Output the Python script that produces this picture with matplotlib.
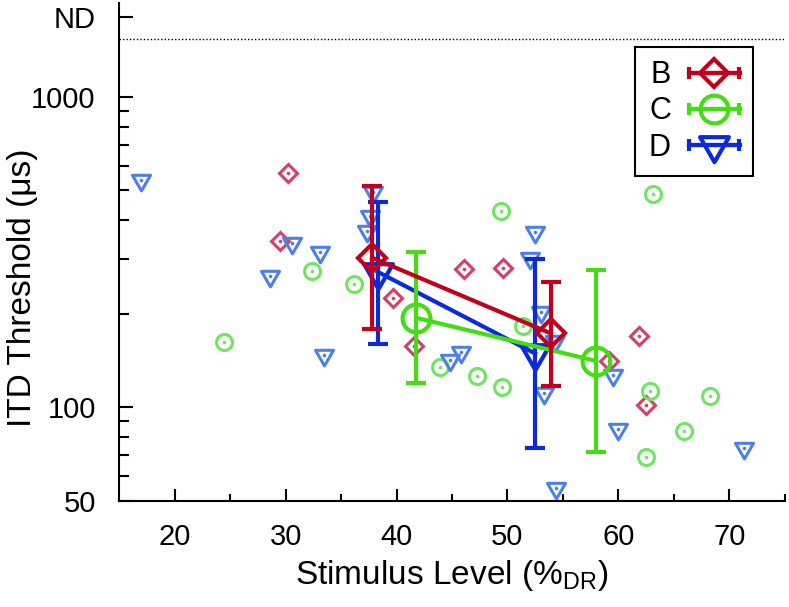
import numpy as np
import matplotlib
matplotlib.use("Agg")
import matplotlib.pyplot as plt
from matplotlib.path import Path
from matplotlib.lines import Line2D
from matplotlib.collections import LineCollection
from matplotlib.container import ErrorbarContainer
from matplotlib.legend_handler import HandlerErrorbar

plt.rcParams['font.family'] = ['Liberation Sans', 'DejaVu Sans']
plt.rcParams['mathtext.fontset'] = 'custom'
plt.rcParams['mathtext.rm'] = 'Liberation Sans'
plt.rcParams['mathtext.it'] = 'Liberation Sans:italic'
plt.rcParams['mathtext.bf'] = 'Liberation Sans:bold'

# ---------------- data ----------------
groups = ['B', 'C', 'D']

# group means with error bars
B_x = [37.8, 53.9]
B_y = [303, 173]
B_lo = [178, 117]
B_hi = [517, 254]

C_x = [41.8, 58.0]
C_y = [194, 141]
C_lo = [120, 71.5]
C_hi = [317, 277]

D_x = [38.3, 52.5]
D_y = [273, 149]
D_lo = [160, 73.7]
D_hi = [457, 300]

# individual subjects
B_ind_x = [30.2, 29.5, 39.7, 41.6, 46.1, 49.6, 61.9, 59.2, 62.5]
B_ind_y = [568, 344, 224, 157, 279, 281, 170, 141, 101.5]

C_ind_x = [32.4, 36.2, 24.4, 43.9, 49.4, 63.1, 51.4, 47.3, 49.5, 62.9, 68.3, 65.9, 62.5]
C_ind_y = [274, 250, 162, 135, 430, 486, 183, 126, 116, 113, 108.5, 84, 69.3]

D_ind_x = [17.0, 30.6, 33.1, 37.9, 37.6, 37.3, 28.6, 33.5, 44.8, 45.8, 52.5, 52.0,
           53.0, 54.3, 53.3, 59.5, 60.0, 71.3, 54.4]
D_ind_y = [540, 338, 317, 494, 413, 370, 265, 147, 142, 151, 368, 302,
           203, 163, 111, 127, 85, 74, 55]

nd_level = 1530
yticks = [50, 100, 1000, 1800]
yticklabels = ['50', '100', '1000', 'ND']
xticks = [20, 30, 40, 50, 60, 70]

# ---------------- styles ----------------
dark = {'B': '#C0001C', 'C': '#44DD14', 'D': '#0A2ADC'}
light = {'B': '#D0406A', 'C': '#6EE660', 'D': '#4A80E8'}

tri_verts = [(-1.0, 0.577), (1.0, 0.577), (0.0, -1.155), (-1.0, 0.577)]
tri = Path(tri_verts, [Path.MOVETO, Path.LINETO, Path.LINETO, Path.CLOSEPOLY])
markers = {'B': 'D', 'C': 'o', 'D': tri}
small_ms = {'B': 8.7, 'C': 11.5, 'D': 15}
big_ms = {'B': 14, 'C': 20, 'D': 24}

fig = plt.figure(figsize=(7.89, 6.07), dpi=100)
ax = fig.add_axes([0.1512, 0.1751, 0.8433, 0.8195])

ind = {'B': (B_ind_x, B_ind_y), 'C': (C_ind_x, C_ind_y), 'D': (D_ind_x, D_ind_y)}
for g in groups:
    xs, ys = ind[g]
    ax.plot(xs, ys, ls='none', marker=markers[g], ms=small_ms[g], mfc='none',
            mec=light[g], mew=2.2, zorder=2)
    ax.plot(xs, ys, ls='none', marker='o', ms=2.6, mfc=light[g], mec=light[g],
            mew=0, zorder=2)

means = {'B': (B_x, B_y, B_lo, B_hi), 'C': (C_x, C_y, C_lo, C_hi), 'D': (D_x, D_y, D_lo, D_hi)}
zo = {'D': 3, 'C': 4, 'B': 5}
for g in ['D', 'C', 'B']:
    x, y, lo, hi = means[g]
    y = np.array(y, float)
    yerr = [y - np.array(lo), np.array(hi) - y]
    ax.errorbar(x, y, yerr=yerr, color=dark[g], lw=3, elinewidth=3, capsize=7.5,
                capthick=3, marker=markers[g], ms=big_ms[g], mfc='none',
                mec=dark[g], mew=3, zorder=zo[g])

ax.axhline(nd_level, color='black', ls=(0, (1, 1.5)), lw=1.0, zorder=1)

ax.set_yscale('log')
ax.set_xlim(15, 75)
ax.set_ylim(50, 2000)
ax.set_yticks(yticks)
ax.set_yticklabels(yticklabels)
ax.set_yticks([60, 70, 80, 90, 200, 300, 400, 500, 600, 700, 800, 900], minor=True)
ax.yaxis.set_minor_formatter(matplotlib.ticker.NullFormatter())
ax.set_xticks(xticks)
ax.set_xticks([25, 35, 45, 55, 65, 75], minor=True)

for s in ['top', 'right']:
    ax.spines[s].set_visible(False)
for s in ['left', 'bottom']:
    ax.spines[s].set_linewidth(1.5)

ax.tick_params(which='both', direction='in', width=1.5, labelsize=21, colors='black')
ax.tick_params(axis='y', which='major', length=10, pad=17)
ax.tick_params(axis='y', which='minor', length=7)
ax.tick_params(axis='x', which='major', length=9, pad=16)
ax.tick_params(axis='x', which='minor', length=5)

ax.set_xlabel(r'Stimulus Level (%$_{\mathrm{DR}}$)', fontsize=24, labelpad=5)
ax.set_ylabel('ITD Threshold (μs)', fontsize=24)
ax.yaxis.set_label_coords(-0.122, 0.428)

# legend (gnuplot style: label left, horizontal errorbar sample)
handles = []
for g in groups:
    line = Line2D([], [], color=dark[g], lw=3, marker=markers[g], ms=big_ms[g],
                  mfc='none', mec=dark[g], mew=3)
    cap = Line2D([], [], color=dark[g], ls='none', marker='|', ms=8, mew=3)
    bar = LineCollection([], colors=dark[g], linewidths=3)
    handles.append(ErrorbarContainer((line, (cap, cap), (bar,)), has_xerr=True,
                                     has_yerr=False, label=g))
leg = ax.legend(handles=handles, loc='upper right', bbox_to_anchor=(0.953, 0.913),
                borderaxespad=0, markerfirst=False, numpoints=1, fontsize=22,
                handlelength=1.65, handletextpad=0.6, labelspacing=0.2,
                borderpad=0.45, fancybox=False, framealpha=1,
                handler_map={ErrorbarContainer: HandlerErrorbar(xerr_size=0.82)})
leg.get_frame().set_edgecolor('black')
leg.get_frame().set_linewidth(1.5)

fig.savefig('out.png', dpi=100)
